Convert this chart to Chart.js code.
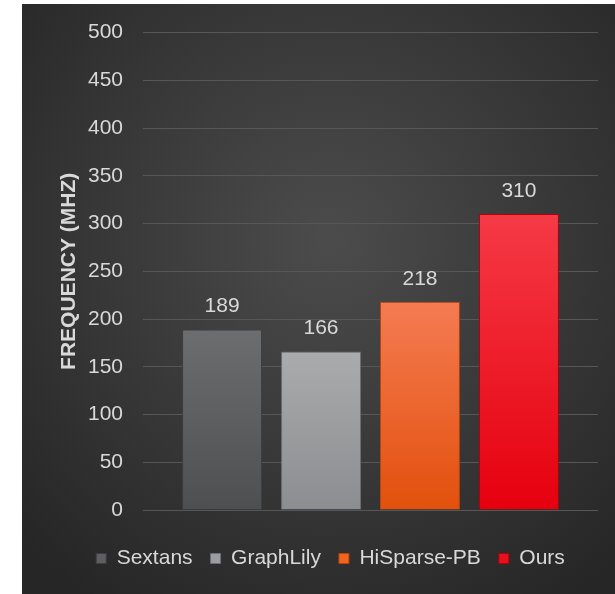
<!DOCTYPE html>
<html>
<head>
<meta charset="utf-8">
<script src="https://cdn.jsdelivr.net/npm/chart.js@4.4.1/dist/chart.umd.min.js"></script>
<style>
  html, body { margin: 0; padding: 0; background: #fff; }
  #wrap { width: 615px; height: 594px; position: relative; }
</style>
</head>
<body>
<div id="wrap"><canvas id="freqChart"></canvas></div>
<script>
// frequency results per design
const designs = ['Sextans', 'GraphLily', 'HiSparse-PB', 'Ours'];
const frequencies = [189, 166, 218, 310];
const yTicks = [0, 50, 100, 150, 200, 250, 300, 350, 400, 450, 500];

// top / bottom gradient stops, border and legend swatch per bar
const barTop = ['#6c6d6f', '#aaabad', '#f57b52', '#f53a46'];
const barBottom = ['#4e4f51', '#8c8d90', '#e2500c', '#e6000e'];
const barBorder = ['#3e3f41', '#6e6f72', '#b8440c', '#b0000c'];
const swatch = ['#5e5f61', '#9c9da0', '#f0641e', '#e8101c'];

const FONT = "'Liberation Sans', Arial, sans-serif";
const TEXT = '#d9d9d9';
const SIZE = 21;

function barFill(i) {
  return (ctx) => {
    const chart = ctx.chart;
    const y = chart.scales && chart.scales.y;
    if (!chart.chartArea || !y) return barBottom[i];
    const top = y.getPixelForValue(frequencies[i]);
    const bottom = y.getPixelForValue(0);
    const g = chart.ctx.createLinearGradient(0, top, 0, bottom);
    g.addColorStop(0, barTop[i]);
    g.addColorStop(1, barBottom[i]);
    return g;
  };
}

// dark panel with a soft radial highlight
const panelBg = {
  id: 'panelBg',
  beforeDraw(chart) {
    const c = chart.ctx;
    c.save();
    c.fillStyle = '#ffffff';
    c.fillRect(0, 0, chart.width, chart.height);
    const g = c.createRadialGradient(330, 240, 10, 330, 240, 430);
    g.addColorStop(0, '#4b4b4b');
    g.addColorStop(1, '#262626');
    c.fillStyle = g;
    c.fillRect(22, 4, chart.width - 22, chart.height - 4);
    c.restore();
  }
};

// nudge the legend row a little to the right
const legendShift = {
  id: 'legendShift',
  afterLayout(chart) {
    if (chart.legend) {
      chart.legend.left += 5;
      chart.legend.right += 5;
    }
  }
};

// value labels above each bar
const valueLabels = {
  id: 'valueLabels',
  afterDatasetsDraw(chart) {
    const c = chart.ctx;
    c.save();
    c.font = SIZE + 'px ' + FONT;
    c.fillStyle = TEXT;
    c.textAlign = 'center';
    c.textBaseline = 'middle';
    chart.data.datasets.forEach((ds, i) => {
      const bar = chart.getDatasetMeta(i).data[0];
      c.fillText(String(ds.data[0]), bar.x, bar.y - 23);
    });
    c.restore();
  }
};

new Chart(document.getElementById('freqChart'), {
  type: 'bar',
  data: {
    labels: [''],
    datasets: designs.map((name, i) => ({
      label: name,
      data: [frequencies[i]],
      backgroundColor: barFill(i),
      borderColor: barBorder[i],
      borderWidth: 1,
      categoryPercentage: 0.87,
      barPercentage: 0.808
    }))
  },
  options: {
    responsive: true,
    maintainAspectRatio: false,
    animation: false,
    layout: { padding: { left: 53, right: 17, top: 19, bottom: 15 } },
    plugins: {
      tooltip: { enabled: false },
      legend: {
        position: 'bottom',
        labels: {
          color: TEXT,
          font: { family: FONT, size: SIZE },
          boxWidth: 10,
          boxHeight: 10,
          padding: 18,
          generateLabels: (chart) => designs.map((name, i) => ({
            text: name,
            fillStyle: swatch[i],
            strokeStyle: barBorder[i],
            lineWidth: 1,
            fontColor: TEXT,
            datasetIndex: i
          }))
        }
      }
    },
    scales: {
      x: {
        grid: { display: false },
        border: { display: false },
        ticks: { display: false },
        afterFit: (s) => { s.height = 20; }
      },
      y: {
        min: 0,
        max: 500,
        afterBuildTicks: (s) => { s.ticks = yTicks.map(v => ({ value: v })); },
        afterFit: (s) => { s.width = 90; },
        grid: { color: '#575757', lineWidth: 1, drawTicks: false },
        border: { display: false },
        ticks: {
          color: TEXT,
          padding: 20,
          font: { family: FONT, size: SIZE }
        },
        title: {
          display: true,
          text: 'FREQUENCY (MHZ)',
          color: TEXT,
          font: { family: FONT, size: SIZE, weight: 'bold' },
          padding: { top: 4, bottom: 4 }
        }
      }
    }
  },
  plugins: [panelBg, legendShift, valueLabels]
});
</script>
</body>
</html>
